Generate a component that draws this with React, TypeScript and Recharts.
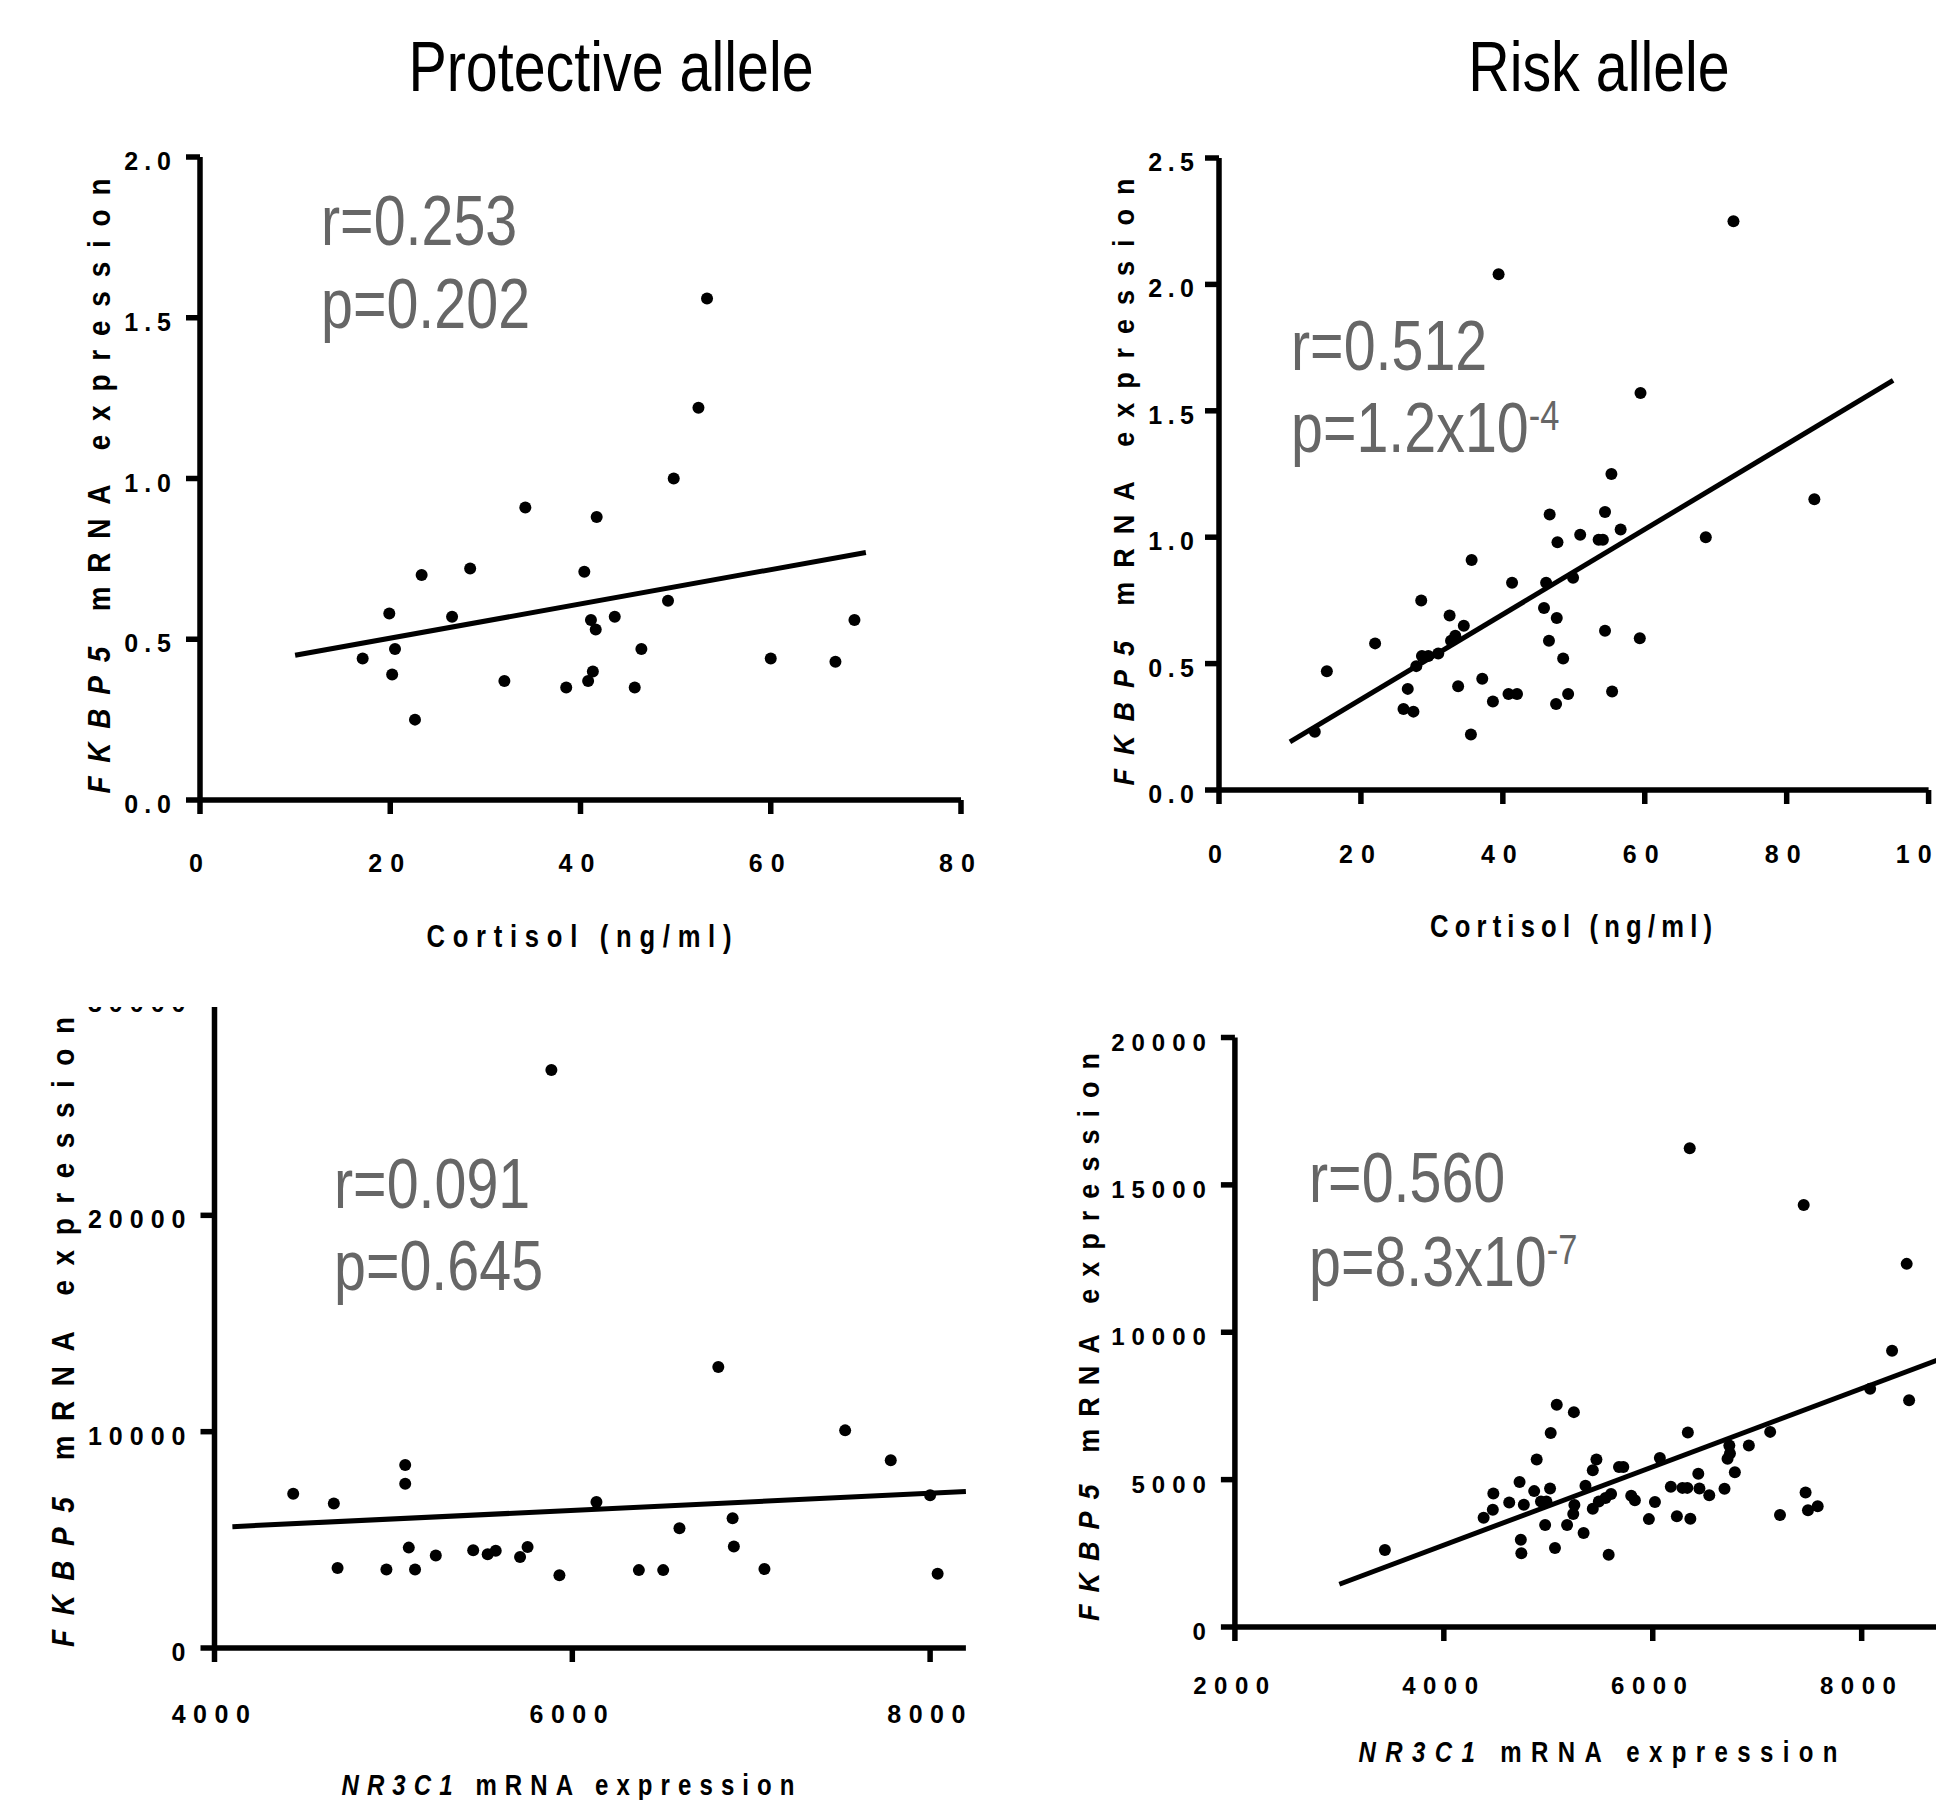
import React from 'react';
import { ScatterChart, Scatter, XAxis, YAxis } from 'recharts';

const SANS = "'Liberation Sans', Arial, Helvetica, sans-serif";

// Protective allele: cortisol vs FKBP5
const protCortX = [17.1, 19.9, 20.5, 20.2, 22.6, 23.3, 26.5, 28.4, 32.0, 34.2, 38.5, 40.4, 40.8, 41.1, 41.3, 41.6, 41.7, 43.6, 45.7, 46.4, 49.2, 49.8, 52.4, 53.3, 60.0, 66.8, 68.8];
const protCortY = [0.44, 0.58, 0.47, 0.39, 0.25, 0.70, 0.57, 0.72, 0.37, 0.91, 0.35, 0.71, 0.37, 0.56, 0.40, 0.53, 0.88, 0.57, 0.35, 0.47, 0.62, 1.0, 1.22, 1.56, 0.44, 0.43, 0.56];
const protCortFitX = [10, 70];
const protCortFitY = [0.45, 0.77];

// Risk allele: cortisol vs FKBP5
const riskCortX = [13.5, 15.2, 22.0, 26.0, 26.6, 27.4, 27.8, 28.5, 28.6, 29.5, 30.9, 32.5, 32.7, 33.3, 33.7, 34.5, 35.5, 35.6, 37.1, 38.6, 39.4, 40.8, 41.3, 42.0, 45.8, 46.1, 46.5, 46.6, 47.5, 47.6, 47.7, 48.5, 49.2, 49.9, 50.9, 53.5, 54.1, 54.4, 54.4, 55.3, 55.4, 56.6, 59.3, 59.4, 68.6, 72.5, 83.9];
const riskCortY = [0.23, 0.47, 0.58, 0.32, 0.40, 0.31, 0.49, 0.75, 0.53, 0.53, 0.54, 0.69, 0.59, 0.61, 0.41, 0.65, 0.22, 0.91, 0.44, 0.35, 2.04, 0.38, 0.82, 0.38, 0.72, 0.82, 0.59, 1.09, 0.34, 0.68, 0.98, 0.52, 0.38, 0.84, 1.01, 0.99, 0.99, 1.10, 0.63, 1.25, 0.39, 1.03, 0.60, 1.57, 1.0, 2.25, 1.15];
const riskCortFitX = [10, 95];
const riskCortFitY = [0.19, 1.62];

// Protective allele: NR3C1 vs FKBP5
const protNrX = [4440, 4667, 4688, 4961, 5066, 5066, 5086, 5121, 5237, 5446, 5527, 5572, 5708, 5750, 5883, 5928, 6135, 6372, 6508, 6599, 6816, 6896, 6903, 7074, 7525, 7780, 8000, 8042];
const protNrY = [7130, 6680, 3700, 3630, 8460, 7590, 4640, 3630, 4280, 4520, 4330, 4500, 4210, 4670, 26720, 3360, 6750, 3600, 3600, 5540, 12990, 6000, 4690, 3650, 10060, 8680, 7060, 3430];
const protNrFitX = [4100, 8200];
const protNrFitY = [5610, 7230];

// Risk allele: NR3C1 vs FKBP5
const riskNrX = [3436, 4381, 4469, 4474, 4626, 4725, 4737, 4742, 4766, 4865, 4889, 4930, 4970, 4982, 5017, 5023, 5064, 5081, 5180, 5239, 5245, 5250, 5338, 5356, 5426, 5426, 5461, 5484, 5548, 5578, 5601, 5677, 5718, 5794, 5829, 5963, 6021, 6068, 6173, 6231, 6284, 6331, 6336, 6354, 6360, 6436, 6447, 6541, 6687, 6716, 6733, 6739, 6786, 6920, 7124, 7218, 7445, 7463, 7486, 7579, 8081, 8291, 8431, 8454];
const riskNrY = [2610, 3710, 3980, 4530, 4220, 4920, 2960, 2500, 4150, 4610, 5680, 4260, 3460, 4260, 4700, 6580, 2680, 7540, 3460, 3830, 7290, 4140, 3190, 4790, 5320, 4010, 5680, 4260, 4380, 2450, 4510, 5430, 5430, 4450, 4300, 3660, 4240, 5730, 4760, 3760, 4720, 4720, 6600, 16240, 3670, 5200, 4700, 4470, 4690, 5710, 6160, 5890, 5250, 6160, 6620, 3800, 14320, 4560, 3960, 4100, 8080, 9370, 12320, 7690];
const riskNrFitX = [3000, 9000];
const riskNrFitY = [1450, 9420];

const cortTicksProt = [0, 20, 40, 60, 80];
const cortTicksRisk = [0, 20, 40, 60, 80, 100];
const fkbpTicksProt = [0, 0.5, 1.0, 1.5, 2.0];
const fkbpTicksRisk = [0, 0.5, 1.0, 1.5, 2.0, 2.5];
const nrTicksProt = [4000, 6000, 8000];
const nrTicksRisk = [2000, 4000, 6000, 8000, 10000];
const exprTicksProt = [0, 10000, 20000, 30000];
const exprTicksRisk = [0, 5000, 10000, 15000, 20000];

const statR = ['r=0.253', 'r=0.512', 'r=0.091', 'r=0.560'];
const statP = ['p=0.202', 'p=1.2x10', 'p=0.645', 'p=8.3x10'];
const statExp = ['', '-4', '', '-7'];

const zip = (xs: number[], ys: number[]) => xs.map((x, i) => ({ x, y: ys[i] }));

const dot = (p: any) => <circle cx={p.cx} cy={p.cy} r={6} fill="#000" />;
const noDot = () => <g />;

function makeXTick(fmt: (v: number) => string, drop: number, size: number, gap: number) {
  return (p: any) => (
    <text x={p.x} y={p.y + drop} textAnchor="middle" fontFamily={SANS} fontWeight="bold"
      fontSize={size} letterSpacing={gap} fill="#000">
      {fmt(p.payload.value)}
    </text>
  );
}

function makeYTick(fmt: (v: number) => string, size: number, gap: number, pad: number) {
  return (p: any) => (
    <text x={p.x - pad + gap} y={p.y + 13} textAnchor="end" fontFamily={SANS} fontWeight="bold"
      fontSize={size} letterSpacing={gap} fill="#000">
      {fmt(p.payload.value)}
    </text>
  );
}

interface PanelProps {
  width: number;
  height: number;
  margin: { top: number; right: number; bottom: number; left: number };
  xDomain: [number, number];
  yDomain: [number, number];
  xTicks: number[];
  yTicks: number[];
  points: { x: number; y: number }[];
  fit: { x: number; y: number }[];
  yFmt: (v: number) => string;
  xDrop: number;
  size: number;
  gap: number;
  yGap: number;
  yPad: number;
}

function Panel(props: PanelProps) {
  const axisStyle = { stroke: '#000', strokeWidth: 5.5 };
  return (
    <ScatterChart width={props.width} height={props.height} margin={props.margin}>
      <XAxis type="number" dataKey="x" domain={props.xDomain} ticks={props.xTicks} interval={0}
        height={60} tickSize={14} axisLine={axisStyle} tickLine={axisStyle}
        tick={makeXTick((v) => String(v), props.xDrop, props.size, props.gap)} />
      <YAxis type="number" dataKey="y" domain={props.yDomain} ticks={props.yTicks} interval={0}
        width={80} tickSize={14} axisLine={axisStyle} tickLine={axisStyle}
        tick={makeYTick(props.yFmt, props.size, props.yGap, props.yPad)} />
      <Scatter data={props.points} shape={dot} isAnimationActive={false} />
      <Scatter data={props.fit} shape={noDot} line={{ stroke: '#000', strokeWidth: 5 }}
        isAnimationActive={false} />
    </ScatterChart>
  );
}

function Narrow({ x, y, size, sx, anchor = 'start', bold = false, fill = '#000', length, rotate = false, children }: any) {
  const t = `translate(${x},${y})${rotate ? ' rotate(-90)' : ''} scale(${sx},1)`;
  return (
    <text transform={t} textAnchor={anchor} fontFamily={SANS} fontSize={size}
      fontWeight={bold ? 'bold' : 'normal'} fill={fill}
      textLength={length ? length / sx : undefined} lengthAdjust={length ? 'spacing' : undefined}>
      {children}
    </text>
  );
}

function Stat({ i, x, y1, y2 }: { i: number; x: number; y1: number; y2: number }) {
  return (
    <g>
      <Narrow x={x} y={y1} size={70} sx={0.82} fill="#666">{statR[i]}</Narrow>
      <Narrow x={x} y={y2} size={70} sx={0.82} fill="#666">
        {statP[i]}
        {statExp[i] && <tspan fontSize={42} dy={-22}>{statExp[i]}</tspan>}
      </Narrow>
    </g>
  );
}

const fkbpLabel = (
  <>
    <tspan fontStyle="italic">FKBP5</tspan> mRNA expression
  </>
);
const nrLabel = (
  <>
    <tspan fontStyle="italic">NR3C1</tspan> mRNA expression
  </>
);

export default function App() {
  const fix1 = (v: number) => v.toFixed(1);
  const plain = (v: number) => String(v);
  return (
    <div style={{ position: 'fixed', left: 0, top: 0, width: 1936, height: 1800, overflow: 'hidden', background: '#fff' }}>
      <div style={{ position: 'absolute', left: 0, top: 0 }}>
        <Panel width={1000} height={980} margin={{ top: 157, right: 39, bottom: 120, left: 120 }}
          xDomain={[0, 80]} yDomain={[0, 2]} xTicks={cortTicksProt} yTicks={fkbpTicksProt}
          points={zip(protCortX, protCortY)} fit={zip(protCortFitX, protCortFitY)}
          yFmt={fix1} xDrop={56} size={25} gap={8} yGap={6} yPad={13} />
      </div>
      <div style={{ position: 'absolute', left: 980, top: 0 }}>
        <Panel width={1000} height={980} margin={{ top: 158, right: 51.4, bottom: 130, left: 159 }}
          xDomain={[0, 100]} yDomain={[0, 2.5]} xTicks={cortTicksRisk} yTicks={fkbpTicksRisk}
          points={zip(riskCortX, riskCortY)} fit={zip(riskCortFitX, riskCortFitY)}
          yFmt={fix1} xDrop={57} size={25} gap={8} yGap={5.5} yPad={9} />
      </div>
      <div style={{ position: 'absolute', left: 0, top: 1007, width: 980, height: 793, overflow: 'hidden' }}>
        <div style={{ position: 'absolute', left: 0, top: -27 }}>
          <Panel width={980} height={820} margin={{ top: 19, right: 14.1, bottom: 92, left: 134.5 }}
            xDomain={[4000, 8200]} yDomain={[0, 30000]} xTicks={nrTicksProt} yTicks={exprTicksProt}
            points={zip(protNrX, protNrY)} fit={zip(protNrFitX, protNrFitY)}
            yFmt={plain} xDrop={59} size={25} gap={7.5} yGap={7} yPad={13} />
        </div>
      </div>
      <div style={{ position: 'absolute', left: 980, top: 980 }}>
        <Panel width={1100} height={820} margin={{ top: 57.5, right: 9.4, bottom: 113, left: 174.9 }}
          xDomain={[2000, 10000]} yDomain={[0, 20000]} xTicks={nrTicksRisk} yTicks={exprTicksRisk}
          points={zip(riskNrX, riskNrY)} fit={zip(riskNrFitX, riskNrFitY)}
          yFmt={plain} xDrop={51} size={24} gap={7.5} yGap={7} yPad={13} />
      </div>

      <svg width={1936} height={1800} style={{ position: 'absolute', left: 0, top: 0, pointerEvents: 'none' }}>
        <Narrow x={611} y={91} size={70} sx={0.82} anchor="middle">Protective allele</Narrow>
        <Narrow x={1599} y={91} size={70} sx={0.82} anchor="middle">Risk allele</Narrow>

        <Narrow x={579} y={947} size={32} sx={0.8} anchor="middle" bold length={305}>Cortisol (ng/ml)</Narrow>
        <Narrow x={1571} y={937} size={32} sx={0.8} anchor="middle" bold length={282}>Cortisol (ng/ml)</Narrow>
        <Narrow x={568} y={1795} size={30} sx={0.8} anchor="middle" bold length={453}>{nrLabel}</Narrow>
        <Narrow x={1598} y={1762} size={30} sx={0.8} anchor="middle" bold length={479}>{nrLabel}</Narrow>

        <Narrow x={110} y={486} size={31} sx={0.9} anchor="middle" bold rotate length={615}>{fkbpLabel}</Narrow>
        <Narrow x={1134} y={482} size={30} sx={0.9} anchor="middle" bold rotate length={607}>{fkbpLabel}</Narrow>
        <Narrow x={74} y={1332} size={31} sx={0.9} anchor="middle" bold rotate length={630}>{fkbpLabel}</Narrow>
        <Narrow x={1099} y={1337} size={30} sx={0.9} anchor="middle" bold rotate length={568}>{fkbpLabel}</Narrow>

        <Stat i={0} x={321} y1={245} y2={328} />
        <Stat i={1} x={1291} y1={370} y2={452} />
        <Stat i={2} x={334} y1={1208} y2={1290} />
        <Stat i={3} x={1309} y1={1202} y2={1286} />
      </svg>
    </div>
  );
}
